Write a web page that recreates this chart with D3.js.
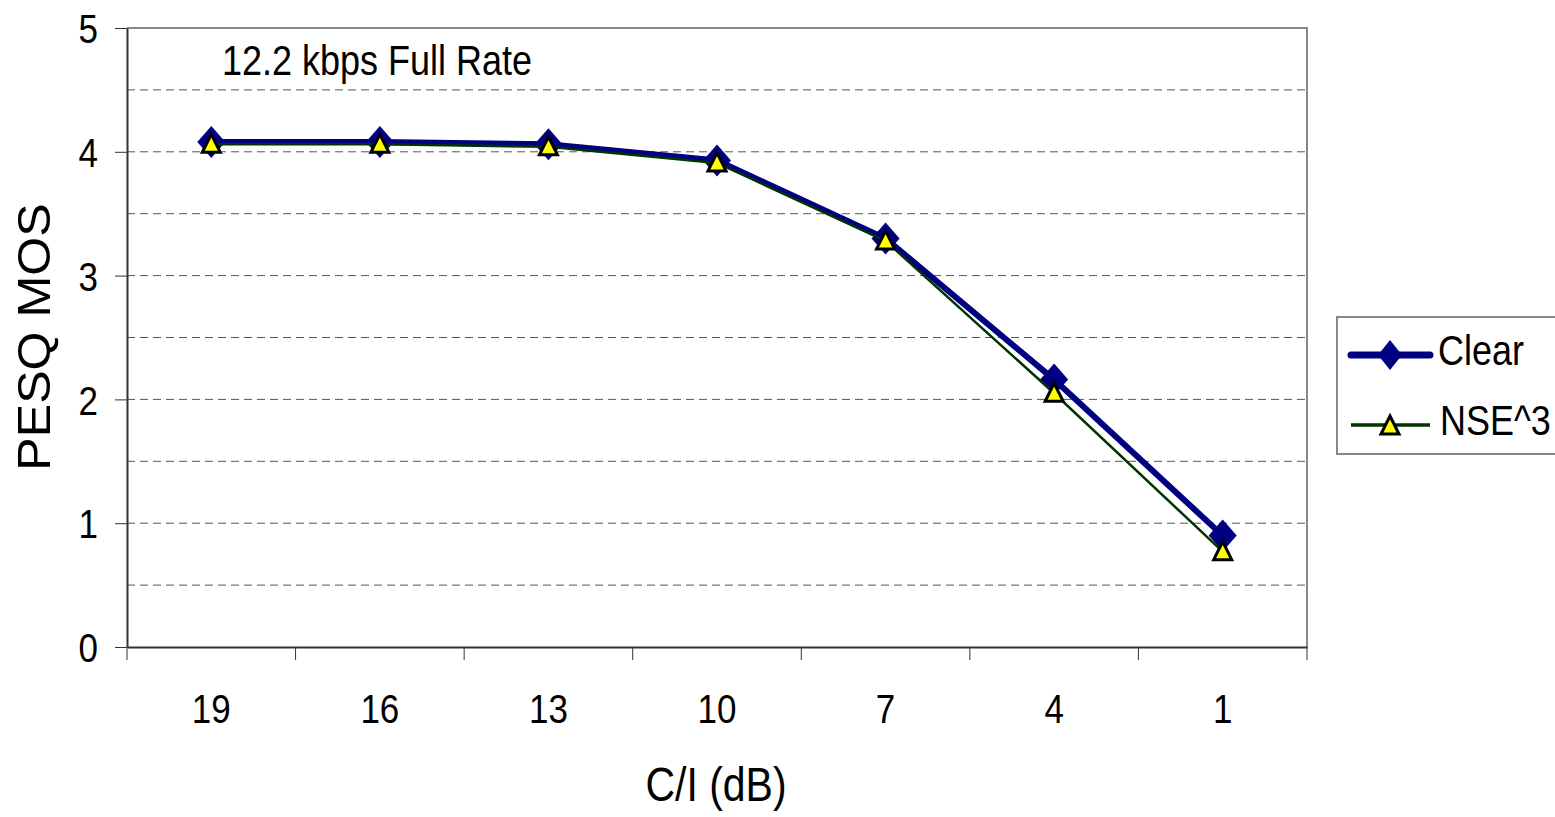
<!DOCTYPE html>
<html>
<head>
<meta charset="utf-8">
<script src="https://cdn.jsdelivr.net/npm/d3@7"></script>
<style>
  body { margin: 0; background: #fff; }
  text { font-family: "Liberation Sans", Arial, sans-serif; fill: #000; }
</style>
</head>
<body>
<div id="chart"></div>
<script>
// data
const categories = ["19", "16", "13", "10", "7", "4", "1"]
const clearValues = [4.08, 4.08, 4.06, 3.93, 3.30, 2.16, 0.90]
const nseValues = [4.06, 4.06, 4.04, 3.91, 3.28, 2.05, 0.77]
const yTicks = [0, 1, 2, 3, 4, 5]
const gridLines = [0.5, 1, 1.5, 2, 2.5, 3, 3.5, 4, 4.5]

const width = 1555
const height = 817
const plot = { left: 127, right: 1307, top: 28, bottom: 647 }
const sy = 1.17 // the original text is stretched a bit vertically

const svg = d3.select("#chart").append("svg")
    .attr("width", width)
    .attr("height", height)

const x = d3.scaleBand()
    .domain(categories)
    .range([plot.left, plot.right])

const y = d3.scaleLinear()
    .domain([0, 5])
    .range([plot.bottom, plot.top])

// dashed gridlines
svg.append("g").selectAll("line")
    .data(gridLines)
    .join("line")
    .attr("x1", plot.left)
    .attr("x2", plot.right)
    .attr("y1", d => y(d))
    .attr("y2", d => y(d))
    .attr("stroke", "#555")
    .attr("stroke-width", 1)
    .attr("stroke-dasharray", "8,5")

// grey frame on top and right
svg.append("path")
    .attr("d", `M${plot.left},${plot.top}H${plot.right}V${plot.bottom}`)
    .attr("fill", "none")
    .attr("stroke", "#888")
    .attr("stroke-width", 2)

// y axis
const yAxis = svg.append("g")
    .attr("transform", `translate(${plot.left},0)`)
    .call(d3.axisLeft(y).tickValues(yTicks).tickFormat(d3.format("d")).tickSize(12).tickSizeOuter(0).tickPadding(17))
yAxis.select(".domain").attr("stroke", "#333").attr("stroke-width", 2)
yAxis.selectAll(".tick line").attr("stroke", "#333")
yAxis.selectAll("text")
    .attr("font-size", 35)
    .attr("font-family", "Liberation Sans, Arial, sans-serif")
    .attr("dy", "0.36em")
    .attr("transform", `scale(1,${sy})`)

// x axis, ticks at category boundaries
const xAxis = svg.append("g")
    .attr("transform", `translate(0,${plot.bottom})`)
    .call(d3.axisBottom(x).tickSize(0).tickSizeOuter(0))
xAxis.select(".domain").attr("stroke", "#333").attr("stroke-width", 2)
xAxis.selectAll("text")
    .attr("font-size", 35)
    .attr("font-family", "Liberation Sans, Arial, sans-serif")
    .attr("y", 76 / sy)
    .attr("dy", 0)
    .attr("transform", `scale(1,${sy})`)
xAxis.selectAll(".boundary")
    .data(d3.range(categories.length + 1))
    .join("line")
    .attr("x1", i => plot.left + i * x.step())
    .attr("x2", i => plot.left + i * x.step())
    .attr("y1", 0)
    .attr("y2", 13)
    .attr("stroke", "#333")

// axis titles and chart note
svg.append("text")
    .attr("transform", `translate(716,801) scale(1,${sy})`)
    .attr("text-anchor", "middle")
    .attr("font-size", 41)
    .text("C/I (dB)")

svg.append("text")
    .attr("transform", "translate(50,337) scale(1,1.09) rotate(-90)")
    .attr("text-anchor", "middle")
    .attr("font-size", 46)
    .text("PESQ MOS")

svg.append("text")
    .attr("transform", `translate(222,75) scale(1,${sy})`)
    .attr("font-size", 36)
    .text("12.2 kbps Full Rate")

const cx = (d, i) => x(categories[i]) + x.bandwidth() / 2
const line = d3.line().x(cx).y(d => y(d))
const diamond = "M0,-16L14,0L0,16L-14,0Z"
const triangle = "M0,-10L9,8L-9,8Z"

// Clear series
svg.append("path")
    .datum(clearValues)
    .attr("d", line)
    .attr("fill", "none")
    .attr("stroke", "#000080")
    .attr("stroke-width", 6)

svg.append("g").selectAll("path")
    .data(clearValues)
    .join("path")
    .attr("transform", (d, i) => `translate(${cx(d, i)},${y(d)})`)
    .attr("d", diamond)
    .attr("fill", "#000080")

// NSE^3 series
svg.append("path")
    .datum(nseValues)
    .attr("d", line)
    .attr("fill", "none")
    .attr("stroke", "#003300")
    .attr("stroke-width", 2.5)

svg.append("g").selectAll("path")
    .data(nseValues)
    .join("path")
    .attr("transform", (d, i) => `translate(${cx(d, i)},${y(d)})`)
    .attr("d", triangle)
    .attr("fill", "#ffff00")
    .attr("stroke", "#000")
    .attr("stroke-width", 3)

// legend
const legend = svg.append("g").attr("transform", "translate(1337,317)")
legend.append("rect")
    .attr("width", 240)
    .attr("height", 137)
    .attr("fill", "#fff")
    .attr("stroke", "#888")
    .attr("stroke-width", 2)

legend.append("line")
    .attr("x1", 14).attr("x2", 93).attr("y1", 38).attr("y2", 38)
    .attr("stroke", "#000080").attr("stroke-width", 7).attr("stroke-linecap", "round")
legend.append("path")
    .attr("transform", "translate(53,38)")
    .attr("d", "M0,-15L12,0L0,15L-12,0Z")
    .attr("fill", "#000080")
legend.append("text")
    .attr("transform", `translate(101,48) scale(1,${sy})`)
    .attr("font-size", 36)
    .text("Clear")

legend.append("line")
    .attr("x1", 14).attr("x2", 93).attr("y1", 108).attr("y2", 108)
    .attr("stroke", "#003300").attr("stroke-width", 3.5)
legend.append("path")
    .attr("transform", "translate(53,109)")
    .attr("d", triangle)
    .attr("fill", "#ffff00")
    .attr("stroke", "#000")
    .attr("stroke-width", 3)
legend.append("text")
    .attr("transform", `translate(103,118) scale(1,${sy})`)
    .attr("font-size", 36)
    .text("NSE^3")
</script>
</body>
</html>
